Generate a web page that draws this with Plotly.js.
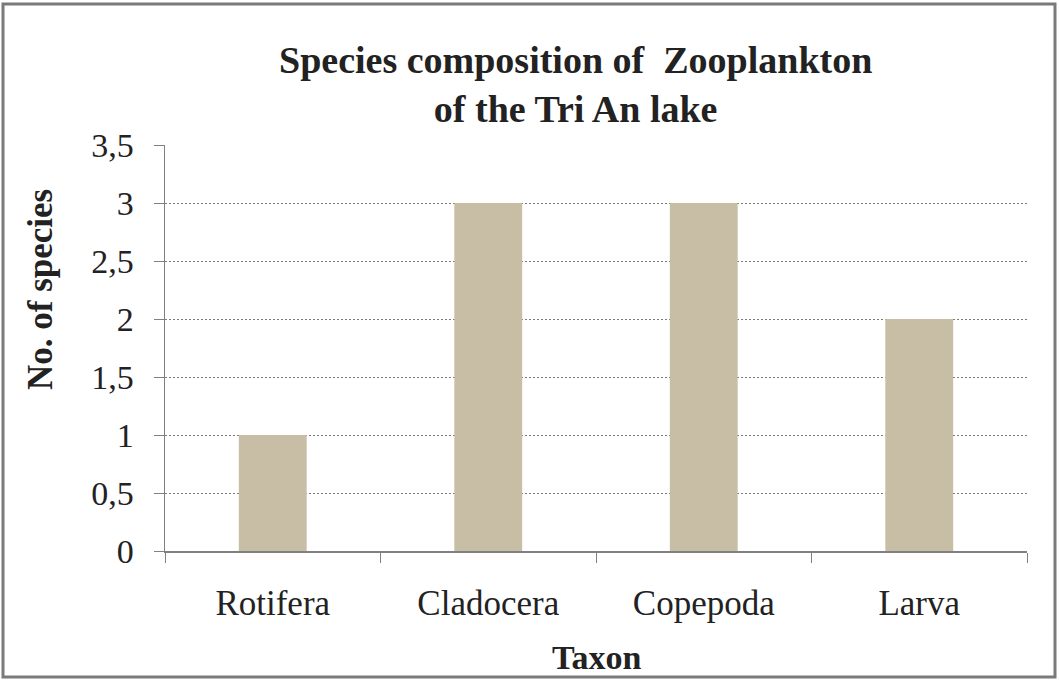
<!DOCTYPE html>
<html>
<head>
<meta charset="utf-8">
<script src="https://cdn.plot.ly/plotly-3.0.1.min.js"></script>
<style>
html,body{margin:0;padding:0;background:#fff;}
#chart{width:1059px;height:680px;}
</style>
</head>
<body>
<div id="chart"></div>
<script>
const categories = ["Rotifera", "Cladocera", "Copepoda", "Larva"];
const speciesCount = [1, 3, 3, 2];
const yTickValues = [0, 0.5, 1, 1.5, 2, 2.5, 3, 3.5];
const yTickLabels = ["0", "0,5", "1", "1,5", "2", "2,5", "3", "3,5"];

const W = 1059, H = 680;
const L = 165, R = 1027, T = 145, B = 551;
const pw = R - L, ph = B - T;
const px = x => (x - L) / pw;
const py = y => (B - y) / ph;

const serif = "Liberation Serif";

const trace = {
  type: "bar",
  x: categories,
  y: speciesCount,
  marker: { color: "#c8bea6", line: { width: 0 } },
  hoverinfo: "x+y"
};

const layout = {
  width: W, height: H,
  margin: { l: L, r: W - R, t: T, b: H - B, pad: 0 },
  paper_bgcolor: "#ffffff",
  plot_bgcolor: "#ffffff",
  showlegend: false,
  bargap: 0.685,
  font: { family: serif, color: "#222222" },
  xaxis: {
    type: "category",
    tickson: "boundaries",
    ticks: "outside", ticklen: 10, tickcolor: "#808080", tickwidth: 1,
    showline: true, linecolor: "#808080", linewidth: 1.5,
    showgrid: false, zeroline: false,
    tickfont: { family: serif, size: 35, color: "#222222" },
    ticklabelstandoff: 20,
    fixedrange: true
  },
  yaxis: {
    range: [0, 3.5],
    tickvals: yTickValues,
    ticktext: yTickLabels,
    ticks: "outside", ticklen: 10, tickcolor: "#808080", tickwidth: 1,
    showline: true, linecolor: "#808080", linewidth: 1.5,
    showgrid: true, gridcolor: "#7a7a7a", gridwidth: 1, griddash: "2px,2px",
    zeroline: false,
    tickfont: { family: serif, size: 34, color: "#222222" },
    ticklabelstandoff: 13,
    fixedrange: true
  },
  annotations: [
    {
      text: "<b>Species composition of  Zooplankton<br>of the Tri An lake</b>",
      xref: "paper", yref: "paper",
      x: px(575), y: py(85),
      xanchor: "center", yanchor: "middle",
      showarrow: false,
      font: { family: serif, size: 38, color: "#222222" }
    },
    {
      text: "<b>No. of species</b>",
      xref: "paper", yref: "paper",
      x: px(40), y: py(290),
      xanchor: "center", yanchor: "middle",
      textangle: -90, showarrow: false,
      font: { family: serif, size: 35, color: "#222222" }
    },
    {
      text: "<b>Taxon</b>",
      xref: "paper", yref: "paper",
      x: px(597), y: py(657),
      xanchor: "center", yanchor: "middle",
      showarrow: false,
      font: { family: serif, size: 34, color: "#222222" }
    }
  ],
  shapes: [
    {
      type: "rect", xref: "paper", yref: "paper",
      x0: px(3), x1: px(1055), y0: py(677), y1: py(4),
      line: { color: "#7a7a7a", width: 3 },
      fillcolor: "rgba(0,0,0,0)", layer: "below"
    }
  ]
};

Plotly.newPlot("chart", [trace], layout, { staticPlot: true, displayModeBar: false });
</script>
</body>
</html>
